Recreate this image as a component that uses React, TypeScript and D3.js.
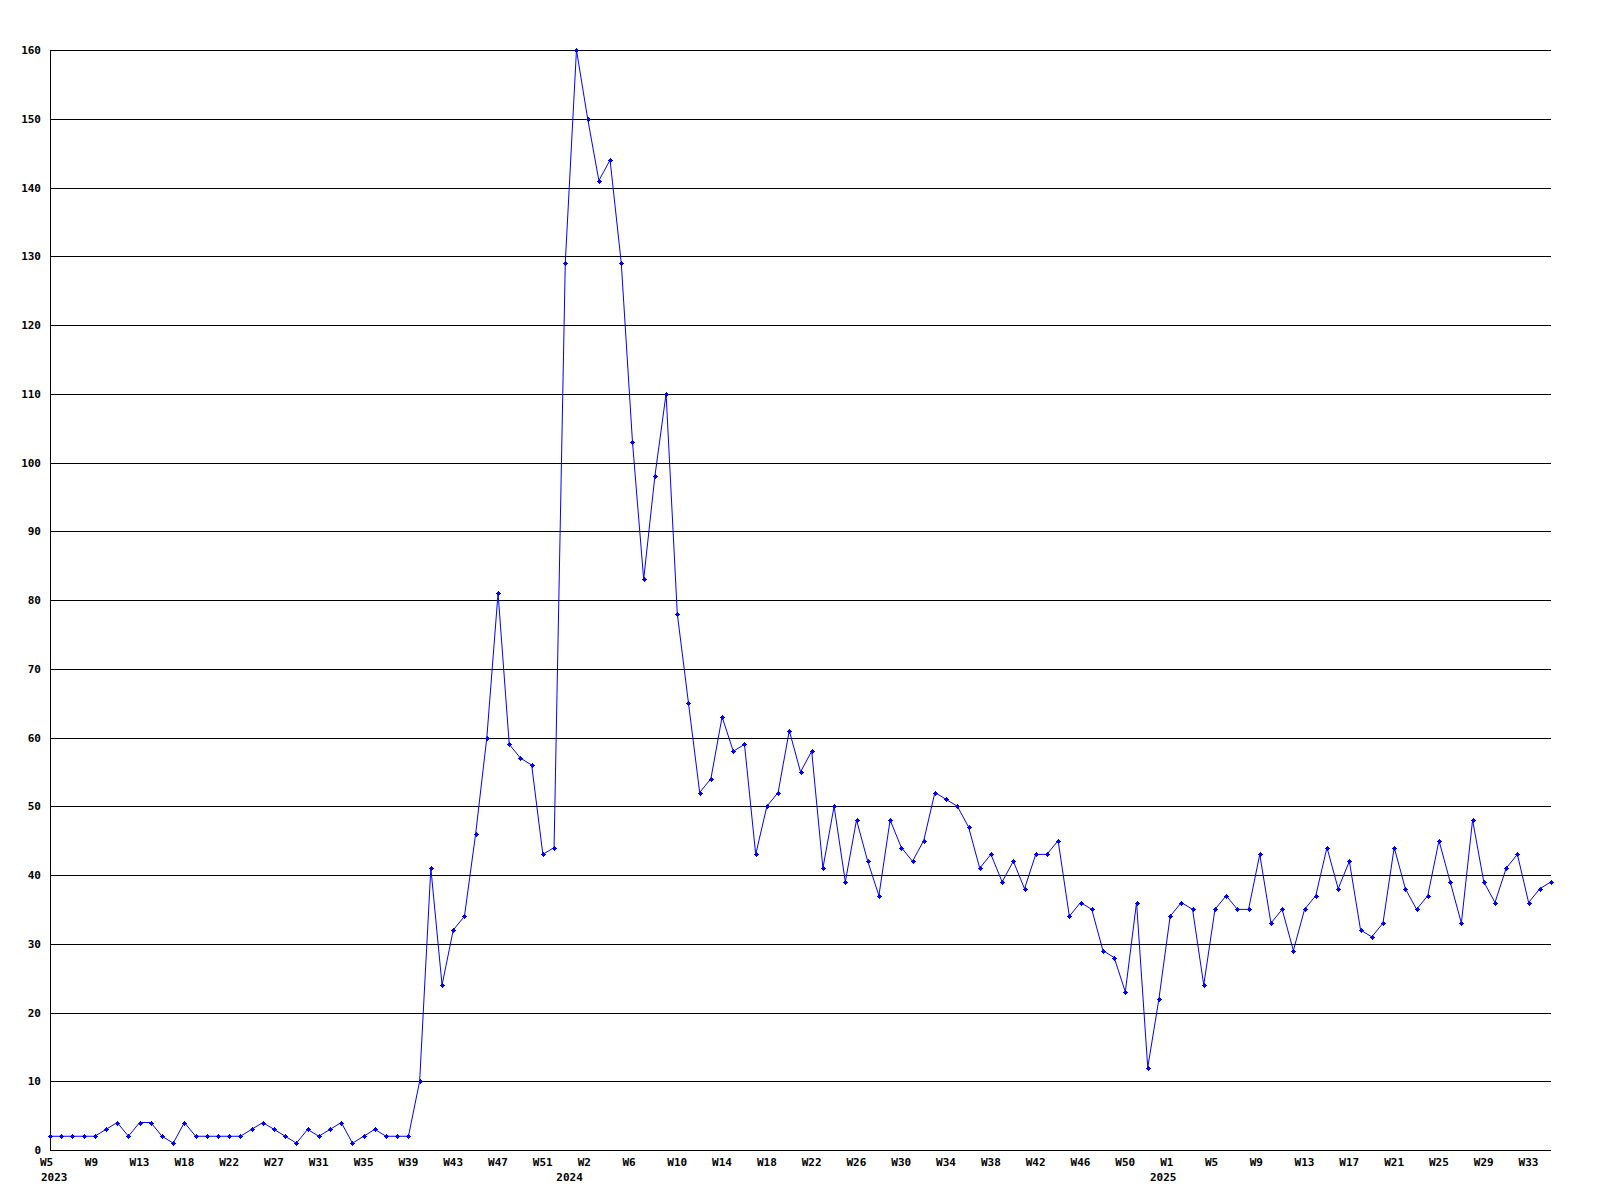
import React from "react";
import * as d3 from "d3";

const values: number[] = [
  2, 2, 2, 2, 2, 3, 4, 2, 4, 4, 2, 1, 4, 2, 2, 2, 2, 2, 3, 4,
  3, 2, 1, 3, 2, 3, 4, 1, 2, 3, 2, 2, 2, 10, 41, 24, 32, 34, 46, 60,
  81, 59, 57, 56, 43, 44, 129, 160, 150, 141, 144, 129, 103, 83, 98, 110, 78, 65, 52, 54,
  63, 58, 59, 43, 50, 52, 61, 55, 58, 41, 50, 39, 48, 42, 37, 48, 44, 42, 45, 52,
  51, 50, 47, 41, 43, 39, 42, 38, 43, 43, 45, 34, 36, 35, 29, 28, 23, 36, 12, 22,
  34, 36, 35, 24, 35, 37, 35, 35, 43, 33, 35, 29, 35, 37, 44, 38, 42, 32, 31, 33,
  44, 38, 35, 37, 45, 39, 33, 48, 39, 36, 41, 43, 36, 38, 39,
];

const tickIndex: number[] = [0, 4, 8, 12, 16, 20, 24, 28, 32, 36, 40, 44, 48, 52, 56, 60, 64, 68, 72, 76, 80, 84, 88, 92, 96, 100, 104, 108, 112, 116, 120, 124, 128, 132];
const tickLabels: string[] = [
  "W5", "W9", "W13", "W18", "W22", "W27", "W31", "W35", "W39", "W43", "W47", "W51",
  "W2", "W6", "W10", "W14", "W18", "W22", "W26", "W30", "W34", "W38", "W42", "W46", "W50",
  "W1", "W5", "W9", "W13", "W17", "W21", "W25", "W29", "W33",
];
const yearIndex: number[] = [0, 46, 99];
const yearLabels: string[] = ["2023", "2024", "2025"];
const yTicks: number[] = [0, 10, 20, 30, 40, 50, 60, 70, 80, 90, 100, 110, 120, 130, 140, 150, 160];

const FONT = "'DejaVu Sans Mono', monospace";

export default function App() {
  const W = 1600;
  const H = 1200;
  const left = 50;
  const right = 1551;
  const top = 50;
  const bottom = 1150;

  const x = d3.scaleLinear().domain([0, values.length - 1]).range([left, right]);
  const y = d3.scaleLinear().domain([0, 160]).range([bottom, top]);

  const line = d3
    .line<number>()
    .x((_, i) => x(i))
    .y((d) => y(d));

  const gy = (v: number) => Math.round(y(v)) + 0.5;

  return (
    <svg
      width={W}
      height={H}
      style={{ position: "absolute", left: 0, top: 0, display: "block", background: "#fff" }}
    >
      <rect x={0} y={0} width={W} height={H} fill="#fff" />
      {yTicks.map((t) => (
        <line
          key={"g" + t}
          x1={left}
          x2={right}
          y1={gy(t)}
          y2={gy(t)}
          stroke="#000"
          strokeWidth={1}
          shapeRendering="crispEdges"
        />
      ))}
      <line
        x1={left + 0.5}
        x2={left + 0.5}
        y1={gy(160)}
        y2={gy(0)}
        stroke="#000"
        strokeWidth={1}
        shapeRendering="crispEdges"
      />
      {yTicks.map((t) => (
        <text
          key={"yl" + t}
          x={41}
          y={y(t) + 4}
          textAnchor="end"
          fontFamily={FONT}
          fontWeight="bold"
          fontSize={11}
          fill="#000"
        >
          {t}
        </text>
      ))}
      {tickIndex.map((idx, k) => (
        <text
          key={"xl" + k}
          x={x(idx) - 10}
          y={1166}
          textAnchor="start"
          fontFamily={FONT}
          fontWeight="bold"
          fontSize={11}
          fill="#000"
        >
          {tickLabels[k]}
        </text>
      ))}
      {yearIndex.map((idx, k) => (
        <text
          key={"yr" + k}
          x={x(idx) - 9}
          y={1181}
          textAnchor="start"
          fontFamily={FONT}
          fontWeight="bold"
          fontSize={11}
          fill="#000"
        >
          {yearLabels[k]}
        </text>
      ))}
      <path d={line(values) || ""} fill="none" stroke="#0000ff" strokeWidth={1} />
      {values.map((v, i) => {
        const cx = Math.round(x(i));
        const cy = Math.round(y(v));
        return (
          <g key={"m" + i} fill="#0000ff" shapeRendering="crispEdges">
            <rect x={cx - 2} y={cy} width={5} height={1} />
            <rect x={cx} y={cy - 2} width={1} height={5} />
            <rect x={cx - 1} y={cy - 1} width={3} height={3} />
          </g>
        );
      })}
    </svg>
  );
}
